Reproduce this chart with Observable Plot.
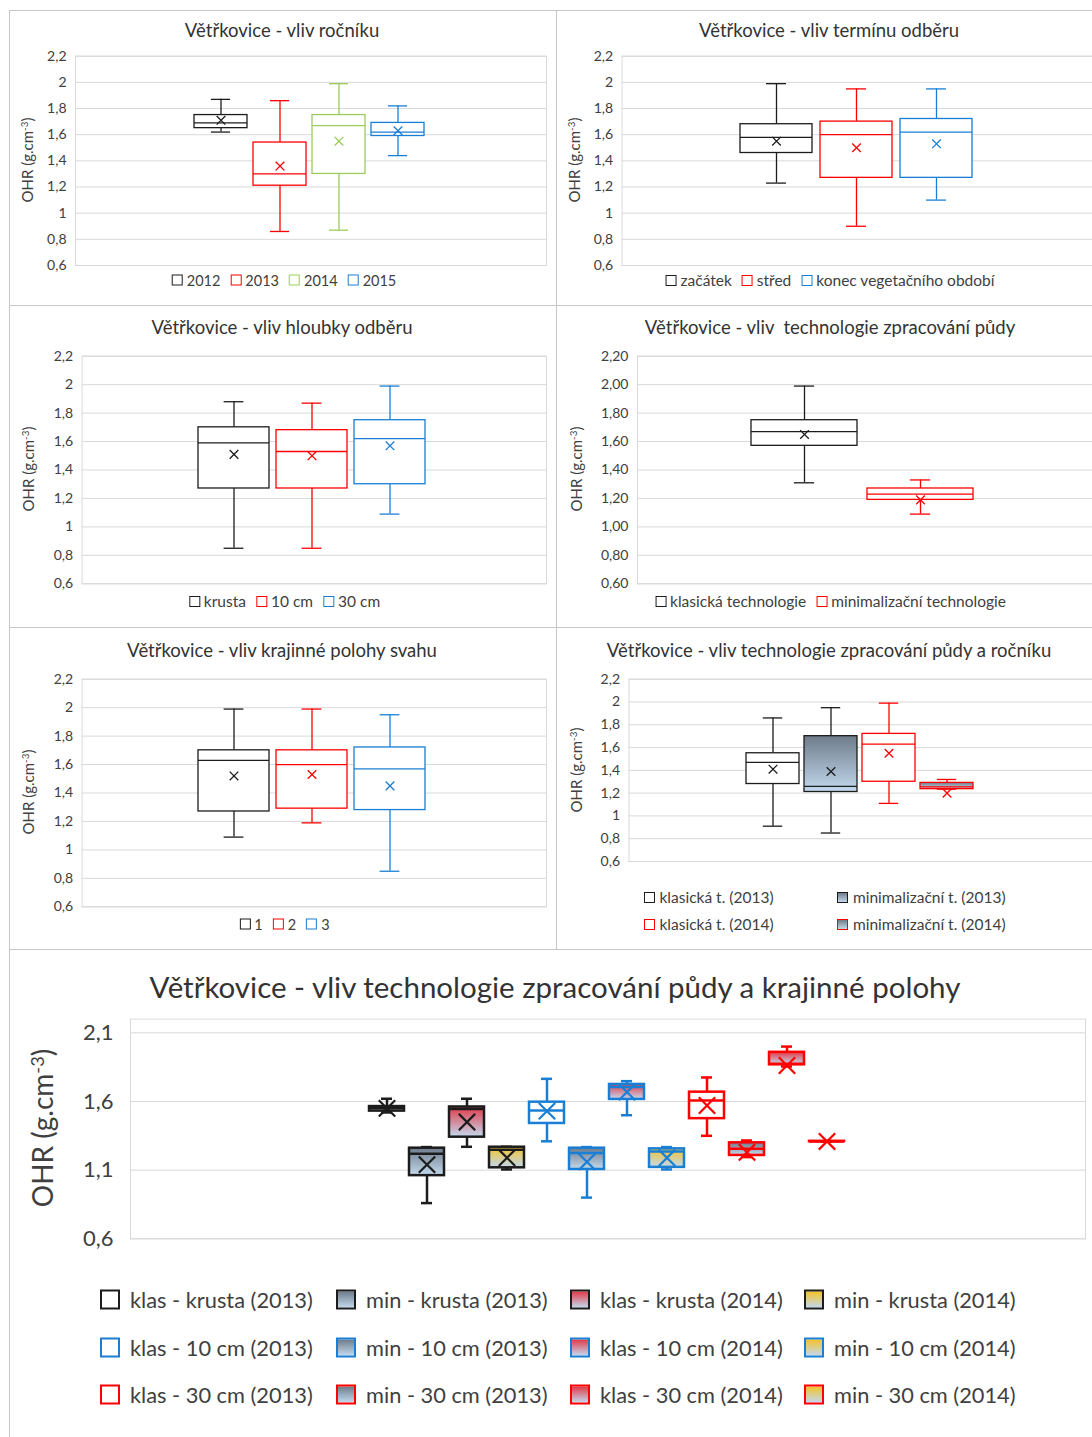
<!DOCTYPE html>
<html><head><meta charset="utf-8">
<script src="https://cdn.jsdelivr.net/npm/d3@7"></script>
<script src="https://cdn.jsdelivr.net/npm/@observablehq/plot@0.6"></script>
<style>
body{margin:0;background:#fff;}
#root{position:relative;width:1092px;height:1437px;overflow:hidden;font-family:Lato,'Open Sans',sans-serif;color:#404040;background:#fff;}
.border{position:absolute;border:1.5px solid #c6c6c6;box-sizing:border-box;}
.title{position:absolute;transform:translate(-50%,-50%);white-space:pre;color:#333;}
.ylab{position:absolute;transform:translate(-50%,-50%) rotate(-90deg);white-space:nowrap;color:#404040;}
.ylab sup{font-size:0.65em;vertical-align:0.5em;line-height:0;}
.leg{position:absolute;display:flex;align-items:center;white-space:nowrap;transform:translate(-50%,-50%);}
.legi{position:absolute;display:flex;align-items:center;white-space:nowrap;transform:translateY(-50%);}
.sw{display:inline-block;box-sizing:border-box;flex:none;}
</style></head><body><div id="root"></div><script>
// ---------------- DATA ----------------
// Panel 1: vliv ročníku
const rocnikCats = ["2012", "2013", "2014", "2015"];
const rocnikMin  = [1.62, 0.86, 0.87, 1.44];
const rocnikQ1   = [1.65, 1.21, 1.30, 1.59];
const rocnikMed  = [1.69, 1.30, 1.67, 1.62];
const rocnikQ3   = [1.75, 1.54, 1.75, 1.69];
const rocnikMax  = [1.87, 1.86, 1.99, 1.82];
const rocnikMean = [1.71, 1.36, 1.55, 1.63];

// Panel 2: vliv termínu odběru
const terminCats = ["začátek", "střed", "konec vegetačního období"];
const terminMin  = [1.23, 0.90, 1.10];
const terminQ1   = [1.46, 1.27, 1.27];
const terminMed  = [1.58, 1.60, 1.62];
const terminQ3   = [1.68, 1.70, 1.72];
const terminMax  = [1.99, 1.95, 1.95];
const terminMean = [1.55, 1.50, 1.53];

// Panel 3: vliv hloubky odběru
const hloubkaCats = ["krusta", "10 cm", "30 cm"];
const hloubkaMin  = [0.85, 0.85, 1.09];
const hloubkaQ1   = [1.27, 1.27, 1.30];
const hloubkaMed  = [1.59, 1.53, 1.62];
const hloubkaQ3   = [1.70, 1.68, 1.75];
const hloubkaMax  = [1.88, 1.87, 1.99];
const hloubkaMean = [1.51, 1.50, 1.57];

// Panel 4: vliv technologie zpracování půdy
const techCats = ["klasická technologie", "minimalizační technologie"];
const techMin  = [1.31, 1.09];
const techQ1   = [1.57, 1.19];
const techMed  = [1.67, 1.23];
const techQ3   = [1.75, 1.27];
const techMax  = [1.99, 1.33];
const techMean = [1.65, 1.19];

// Panel 5: vliv krajinné polohy svahu
const polohaCats = ["1", "2", "3"];
const polohaMin  = [1.09, 1.19, 0.85];
const polohaQ1   = [1.27, 1.29, 1.28];
const polohaMed  = [1.63, 1.60, 1.57];
const polohaQ3   = [1.70, 1.70, 1.72];
const polohaMax  = [1.99, 1.99, 1.95];
const polohaMean = [1.52, 1.53, 1.45];

// Panel 6: vliv technologie zpracování půdy a ročníku
const techRokCats = ["klasická t. (2013)", "minimalizační t. (2013)", "klasická t. (2014)", "minimalizační t. (2014)"];
const techRokMin  = [0.91, 0.85, 1.11, 1.235];
const techRokQ1   = [1.28, 1.21, 1.30, 1.235];
const techRokMed  = [1.47, 1.26, 1.63, 1.255];
const techRokQ3   = [1.55, 1.70, 1.72, 1.29];
const techRokMax  = [1.86, 1.95, 1.99, 1.32];
const techRokMean = [1.41, 1.39, 1.55, 1.20];

// Panel 7: vliv technologie zpracování půdy a krajinné polohy
const polohaTechCats = [
  "klas - krusta (2013)", "min - krusta (2013)", "klas - krusta (2014)", "min - krusta (2014)",
  "klas - 10 cm (2013)", "min - 10 cm (2013)", "klas - 10 cm (2014)", "min - 10 cm (2014)",
  "klas - 30 cm (2013)", "min - 30 cm (2013)", "klas - 30 cm (2014)", "min - 30 cm (2014)"];
const polohaTechMin  = [1.52, 0.86, 1.27, 1.105, 1.31, 0.90, 1.50, 1.105, 1.35, 1.195, 1.855, 1.308];
const polohaTechQ1   = [1.53, 1.06, 1.34, 1.117, 1.44, 1.105, 1.615, 1.12, 1.475, 1.207, 1.867, 1.308];
const polohaTechMed  = [1.55, 1.22, 1.545, 1.248, 1.535, 1.225, 1.705, 1.235, 1.607, 1.255, 1.875, 1.309];
const polohaTechQ3   = [1.563, 1.26, 1.56, 1.267, 1.595, 1.26, 1.724, 1.255, 1.668, 1.299, 1.958, 1.310];
const polohaTechMax  = [1.62, 1.268, 1.62, 1.27, 1.765, 1.268, 1.748, 1.268, 1.775, 1.316, 2.00, 1.310];
const polohaTechMean = [1.55, 1.14, 1.45, 1.19, 1.53, 1.16, 1.668, 1.19, 1.571, 1.23, 1.862, 1.309];

// Tick labels
const ticksA = [0.6, 0.8, 1, 1.2, 1.4, 1.6, 1.8, 2, 2.2];
const ticksB = [0.6, 1.1, 1.6, 2.1];

// ---------------- STYLE ----------------
const FONT = "Lato, 'Open Sans', sans-serif";
const BLACK = "#1c1c1c", RED = "#ff0000", GREEN = "#9acd5a", BLUE = "#1a7fd4";
const GRAD = {grey: ["#6e7c8b", "#c3d9ee"], red: ["#e23a48", "#c3d9ee"], gold: ["#f3c22a", "#c3d9ee"]};
const YLABEL = "OHR (g.cm<sup>-3</sup>)";
const commaFmt = d => String(d).replace(".", ",");
const comma2Fmt = d => d.toFixed(2).replace(".", ",");
const comma1Fmt = d => d.toFixed(1).replace(".", ",");

const root = document.getElementById("root");
function el(cls, style, html) {
  const e = document.createElement("div");
  e.className = cls; Object.assign(e.style, style);
  if (html != null) e.innerHTML = html;
  root.appendChild(e); return e;
}
function fillOf(prefix, key) { return key === "white" ? "#ffffff" : `url(#${prefix}-${key})`; }

function drawPanel(c) {
  const [L, T, R, B] = c.box;
  const [X0, Y0, X1, Y1] = c.plot;
  const W = R - L, H = B - T;
  const n = c.cats.length;
  const step = (c.band[1] - c.band[0]) / (n + c.pad);
  const bw = step * (1 - c.pad);
  const capInset = Math.max(0, (bw - c.capW) / 2);
  const data = c.cats.map((k, i) => ({
    k, min: c.min[i], q1: c.q1[i], med: c.med[i], q3: c.q3[i], max: c.max[i], mean: c.mean[i],
    col: c.colors[i], fil: fillOf(c.id, c.fills ? c.fills[i] : "white")
  }));
  const defs = () => {
    const d = d3.create("svg:defs");
    for (const [name, [top, bot]] of Object.entries(GRAD)) {
      const g = d.append("linearGradient").attr("id", `${c.id}-${name}`)
        .attr("x1", 0).attr("y1", 0).attr("x2", 0).attr("y2", 1);
      g.append("stop").attr("offset", "0%").attr("stop-color", top);
      g.append("stop").attr("offset", "100%").attr("stop-color", bot);
    }
    return d.node();
  };
  const sw = c.sw;
  const svg = Plot.plot({
    width: W, height: H,
    marginLeft: X0 - L, marginRight: R - X1, marginTop: Y0 - T, marginBottom: B - Y1,
    style: {fontFamily: FONT, color: "#404040", background: "transparent"},
    x: {type: "band", domain: c.cats, range: [c.band[0] - L, c.band[1] - L], padding: c.pad, axis: null},
    y: {domain: c.yDomain, axis: null},
    color: {type: "identity"},
    marks: [
      defs,
      Plot.gridY(c.yTicks, {stroke: "#d9d9d9", strokeOpacity: 1, strokeWidth: 1}),
      Plot.frame({stroke: "#d9d9d9", strokeWidth: 1}),
      Plot.axisY(c.yTicks, {tickSize: 0, tickPadding: c.tickPad, tickFormat: c.fmt, fontSize: c.tickFont, label: null}),
      Plot.ruleX(data, {x: "k", y1: "min", y2: "q1", stroke: "col", strokeWidth: sw}),
      Plot.ruleX(data, {x: "k", y1: "q3", y2: "max", stroke: "col", strokeWidth: sw}),
      Plot.tickY(data, {x: "k", y: "max", stroke: "col", strokeWidth: sw, insetLeft: capInset, insetRight: capInset}),
      Plot.tickY(data, {x: "k", y: "min", stroke: "col", strokeWidth: sw, insetLeft: capInset, insetRight: capInset}),
      Plot.barY(data, {x: "k", y1: "q1", y2: "q3", fill: "fil", stroke: "col", strokeWidth: sw}),
      Plot.tickY(data, {x: "k", y: "med", stroke: "col", strokeWidth: sw}),
      Plot.dot(data, {x: "k", y: "mean", symbol: "times", r: c.meanR, stroke: "col", strokeWidth: c.meanSW})
    ]
  });
  svg.style.position = "absolute";
  svg.style.left = L + "px";
  svg.style.top = T + "px";
  root.appendChild(svg);

  // title
  el("title", {left: c.title.x + "px", top: c.title.y + "px", fontSize: c.title.size + "px"}, c.title.text);
  // y label
  el("ylab", {left: c.ylab.x + "px", top: c.ylab.y + "px", fontSize: c.ylab.size + "px"}, YLABEL);
  // legend
  const swatch = (i, s) => {
    const f = c.fills ? c.fills[i] : "white";
    const bg = f === "white" ? "#fff" : `linear-gradient(${GRAD[f][0]}, ${GRAD[f][1]})`;
    return `<span class="sw" style="width:${s.box}px;height:${s.box}px;border:${s.bw}px solid ${c.colors[i]};background:${bg};margin-right:${s.gap}px"></span>`;
  };
  const s = c.legend;
  if (s.row) {
    const html = c.cats.map((k, i) => `<span style="display:inline-flex;align-items:center;margin:0 ${s.sep / 2}px">${swatch(i, s)}<span>${k}</span></span>`).join("");
    el("leg", {left: s.x + "px", top: s.y + "px", fontSize: s.size + "px"}, html);
  } else {
    c.cats.forEach((k, i) => {
      const col = i % s.cols.length, row = Math.floor(i / s.cols.length);
      el("legi", {left: s.cols[col] + "px", top: s.rows[row] + "px", fontSize: s.size + "px"}, swatch(i, s) + `<span>${k}</span>`);
    });
  }
}

// panel borders
el("border", {left: "9px", top: "10px", width: "548px", height: "296px"});
el("border", {left: "556px", top: "10px", width: "560px", height: "296px"});
el("border", {left: "9px", top: "305px", width: "548px", height: "323px"});
el("border", {left: "556px", top: "305px", width: "560px", height: "323px"});
el("border", {left: "9px", top: "627px", width: "548px", height: "323px"});
el("border", {left: "556px", top: "627px", width: "560px", height: "323px"});
el("border", {left: "9px", top: "949px", width: "1100px", height: "500px"});

const TS = 18.5, LS = 15.5, YS = 15;
const small = {sw: 1.3, capW: 20, meanR: 4, meanSW: 1.3, tickFont: 14, tickPad: 9, yDomain: [0.6, 2.2], yTicks: ticksA, fmt: commaFmt};
const smallLeg = {row: true, size: LS, box: 11, bw: 1.5, gap: 4, sep: 10};

drawPanel({...small, id: "p1", box: [9, 10, 556, 305], plot: [75, 55.7, 546, 265], band: [186.4, 431.6], pad: 0.1,
  cats: rocnikCats, min: rocnikMin, q1: rocnikQ1, med: rocnikMed, q3: rocnikQ3, max: rocnikMax, mean: rocnikMean,
  colors: [BLACK, RED, GREEN, BLUE],
  title: {text: "Větřkovice - vliv ročníku", x: 282, y: 30, size: TS},
  ylab: {x: 27, y: 160, size: YS},
  legend: {...smallLeg, size: 14.5, x: 284, y: 280}});

drawPanel({...small, id: "p2", box: [556, 10, 1100, 305], plot: [621.6, 55.7, 1100, 265], band: [731.5, 979.5], pad: 0.1,
  cats: terminCats, min: terminMin, q1: terminQ1, med: terminMed, q3: terminQ3, max: terminMax, mean: terminMean,
  colors: [BLACK, RED, BLUE],
  title: {text: "Větřkovice - vliv termínu odběru", x: 829, y: 30, size: TS},
  ylab: {x: 574, y: 160, size: YS},
  legend: {...smallLeg, x: 830, y: 280}});

drawPanel({...small, id: "p3", box: [9, 305, 556, 627], plot: [81.6, 355.7, 546, 583.3], band: [190.9, 432.7], pad: 0.09,
  cats: hloubkaCats, min: hloubkaMin, q1: hloubkaQ1, med: hloubkaMed, q3: hloubkaQ3, max: hloubkaMax, mean: hloubkaMean,
  colors: [BLACK, RED, BLUE],
  title: {text: "Větřkovice - vliv hloubky odběru", x: 282, y: 326.5, size: TS},
  ylab: {x: 28.4, y: 469, size: YS},
  legend: {...smallLeg, x: 284.5, y: 601}});

drawPanel({...small, id: "p4", box: [556, 305, 1100, 627], plot: [637, 355.7, 1100, 583.3], band: [740.5, 983.4], pad: 0.09,
  fmt: comma2Fmt,
  cats: techCats, min: techMin, q1: techQ1, med: techMed, q3: techQ3, max: techMax, mean: techMean,
  colors: [BLACK, RED],
  title: {text: "Větřkovice - vliv  technologie zpracování půdy", x: 830, y: 326.5, size: TS},
  ylab: {x: 575.5, y: 469, size: YS},
  legend: {...smallLeg, x: 830.5, y: 601}});

drawPanel({...small, id: "p5", box: [9, 627, 556, 949], plot: [81.6, 678.7, 546, 906.3], band: [190.9, 432.7], pad: 0.09,
  cats: polohaCats, min: polohaMin, q1: polohaQ1, med: polohaMed, q3: polohaQ3, max: polohaMax, mean: polohaMean,
  colors: [BLACK, RED, BLUE],
  title: {text: "Větřkovice - vliv krajinné polohy svahu", x: 282, y: 650, size: TS},
  ylab: {x: 28.4, y: 792, size: YS},
  legend: {...smallLeg, size: 14.5, x: 284.5, y: 924}});

drawPanel({...small, id: "p6", box: [556, 627, 1100, 949], plot: [628.5, 678.7, 1100, 861], band: [738.8, 979.7], pad: 0.09,
  cats: techRokCats, min: techRokMin, q1: techRokQ1, med: techRokMed, q3: techRokQ3, max: techRokMax, mean: techRokMean,
  colors: [BLACK, BLACK, RED, RED], fills: ["white", "grey", "white", "grey"],
  title: {text: "Větřkovice - vliv technologie zpracování půdy a ročníku", x: 829, y: 650, size: TS},
  ylab: {x: 575.5, y: 769.5, size: YS},
  legend: {row: false, size: LS, box: 11, bw: 1.5, gap: 5, cols: [643.5, 837], rows: [897, 924]}});

drawPanel({id: "p7", box: [9, 949, 1100, 1437], plot: [130, 1018.6, 1085, 1238.3], band: [364.2, 849.2], pad: 0.125,
  sw: 2.5, capW: 11, meanR: 7.5, meanSW: 2.2, tickFont: 22, tickPad: 17, yDomain: [0.6, 2.2], yTicks: ticksB, fmt: comma1Fmt,
  cats: polohaTechCats, min: polohaTechMin, q1: polohaTechQ1, med: polohaTechMed, q3: polohaTechQ3, max: polohaTechMax, mean: polohaTechMean,
  colors: [BLACK, BLACK, BLACK, BLACK, BLUE, BLUE, BLUE, BLUE, RED, RED, RED, RED],
  fills: ["white", "grey", "red", "gold", "white", "grey", "red", "gold", "white", "grey", "red", "gold"],
  title: {text: "Větřkovice - vliv technologie zpracování půdy a krajinné polohy", x: 555, y: 986, size: 29.5},
  ylab: {x: 42, y: 1128, size: 28},
  legend: {row: false, size: 21.8, box: 20, bw: 2, gap: 10, cols: [100, 336, 570, 804], rows: [1299, 1347, 1394]}});
</script></body></html>
